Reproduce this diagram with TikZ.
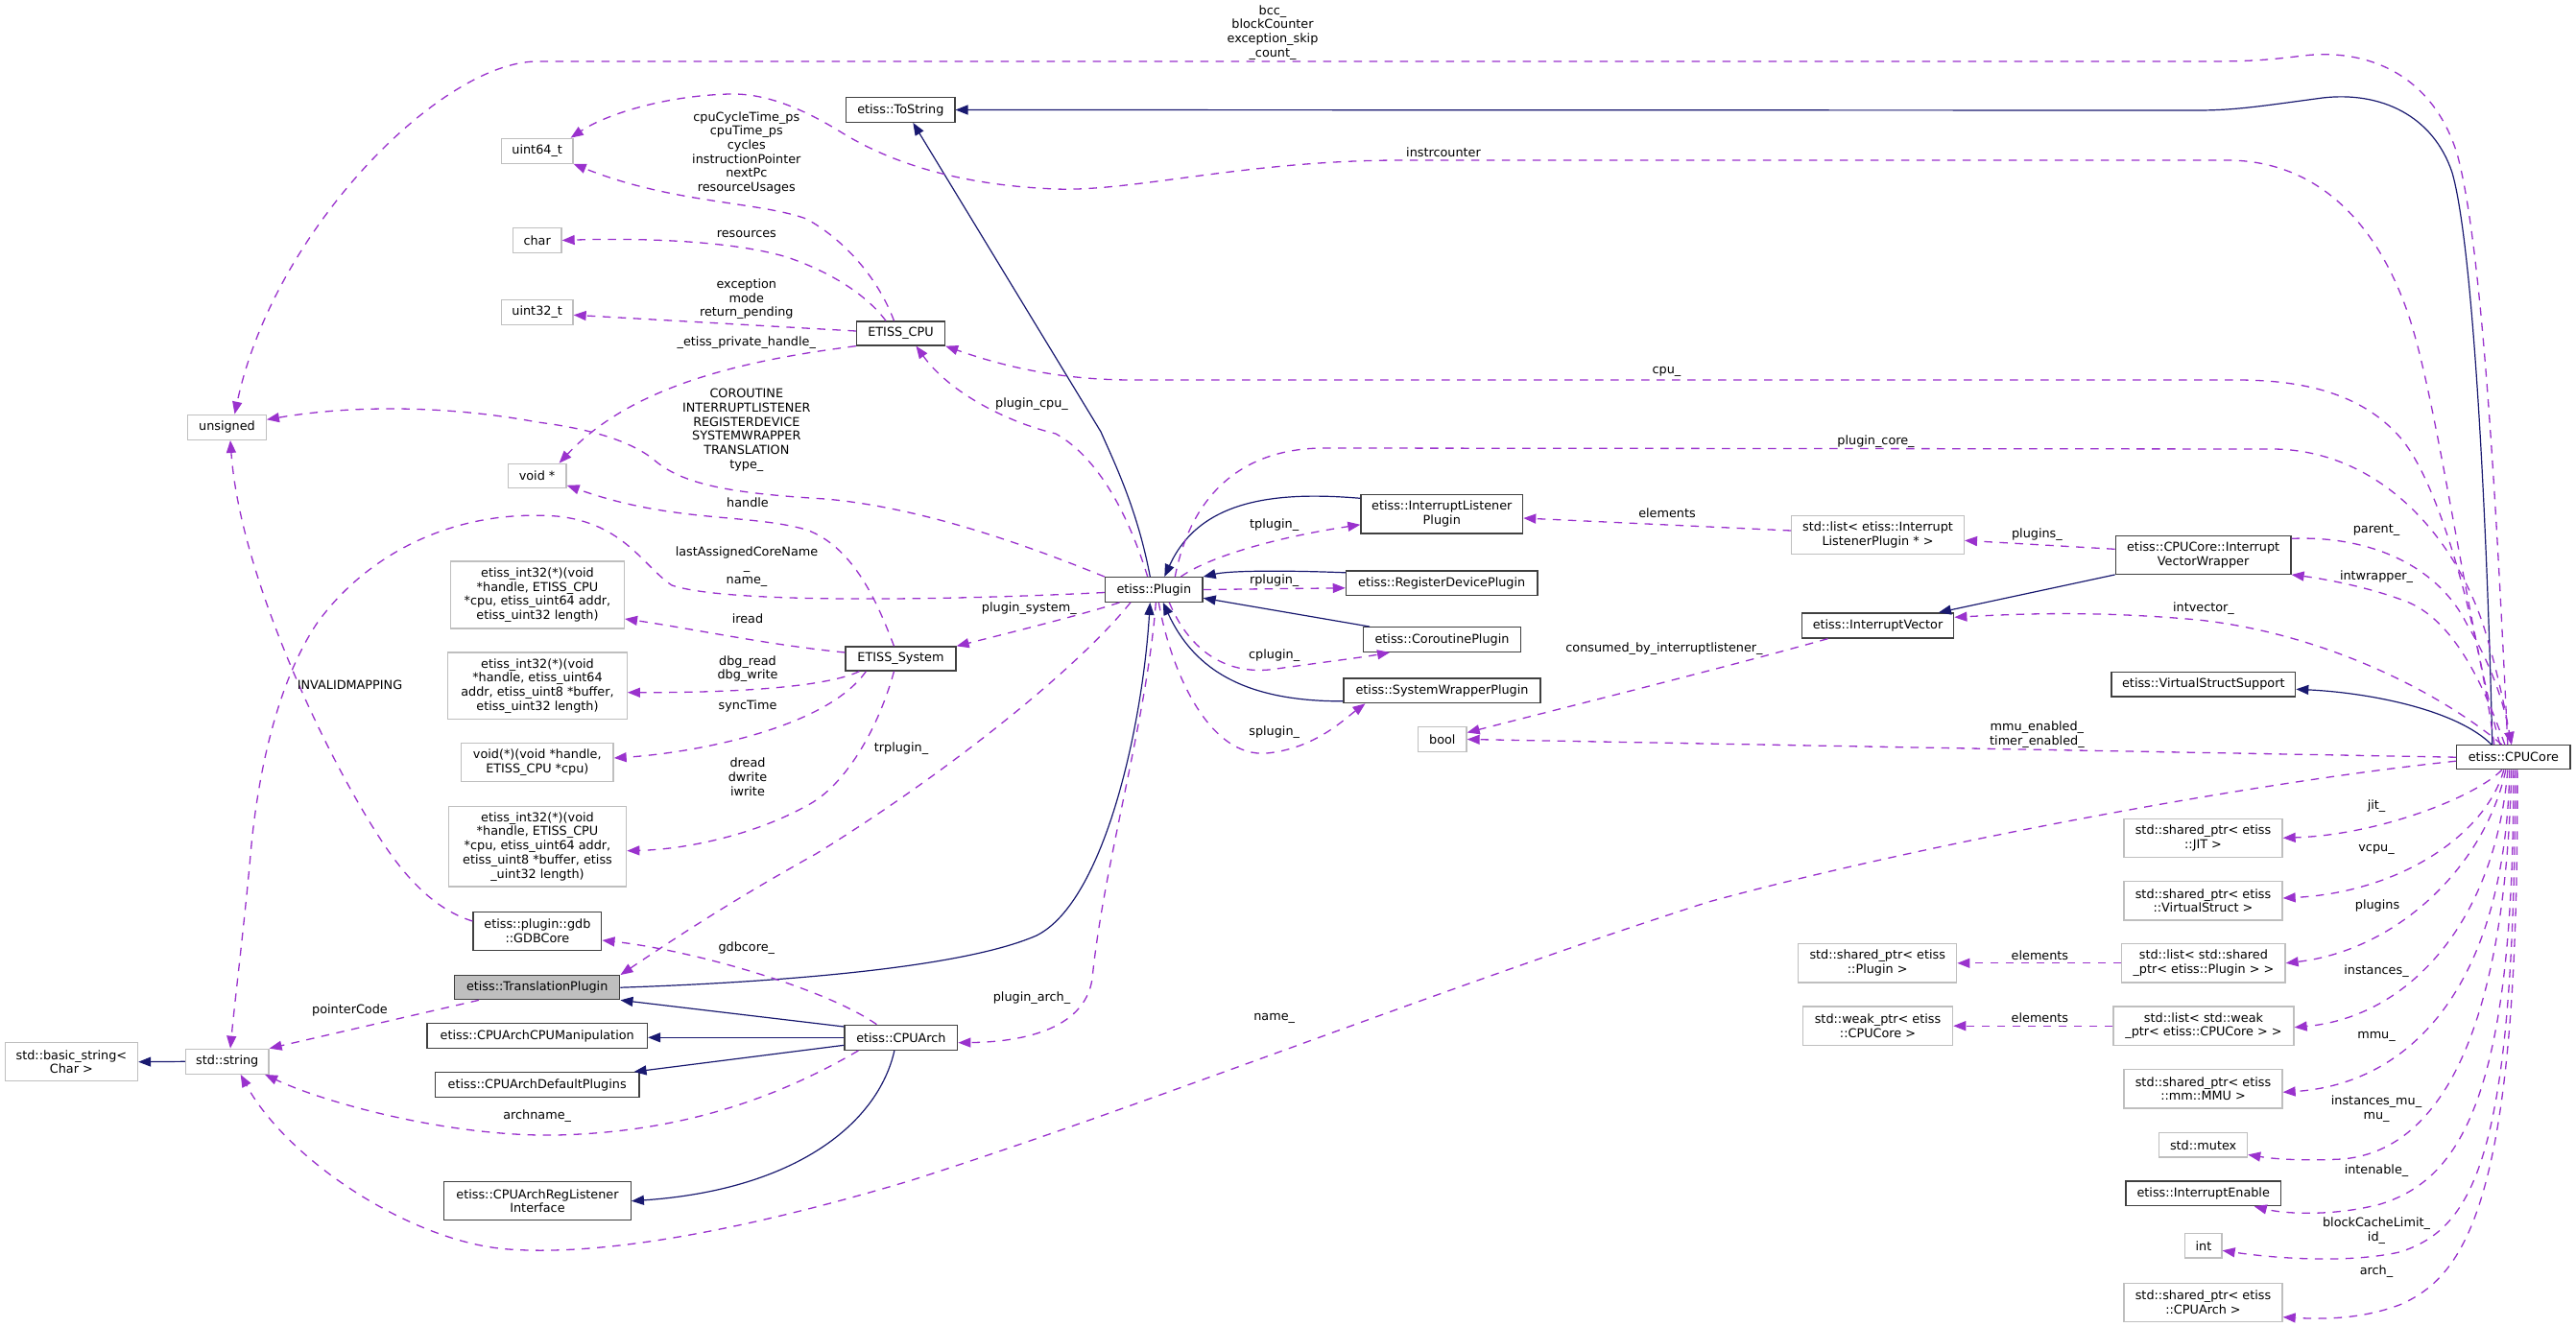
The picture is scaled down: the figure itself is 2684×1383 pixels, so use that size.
\documentclass[tikz,border=0pt]{standalone}
\usepackage{fontspec}
\setmainfont{DejaVu Sans}
\usetikzlibrary{arrows.meta,calc}
\definecolor{inhc}{HTML}{191970}
\definecolor{usec}{HTML}{9A32CD}
\definecolor{bord}{HTML}{404040}
\definecolor{gbord}{HTML}{BFBFBF}
\definecolor{focusfill}{HTML}{BFBFBF}
\newcommand\dxfont{\fontsize{12.8}{14.7}\selectfont}
\tikzset{
  box/.style={draw=bord, line width=1.3pt, fill=white, inner sep=0pt, align=center, font=\dxfont},
  ext/.style={box, draw=gbord},
  focus/.style={box, fill=focusfill},
  lab/.style={font=\dxfont, align=center, inner sep=0pt},
  inh/.style={draw=inhc, line width=1.2pt, -{Triangle[length=13pt,width=10pt]}},
  use/.style={draw=usec, line width=1.3pt, dash pattern=on 8.5pt off 7.5pt, -{Triangle[length=13pt,width=10pt]}},
  plain/.style={draw=usec, line width=1.3pt, dash pattern=on 8.5pt off 7.5pt}
}
\begin{document}
\begin{tikzpicture}[x=1pt,y=-1pt]
\fill[white] (0,0) rectangle (2684,1383);
\useasboundingbox (0,0) rectangle (2684,1383);
% ---------- nodes ----------
\node[ext,minimum width=81.6pt,minimum height=26pt] (unsigned) at (236.5,445.3) {unsigned};
\node[ext,minimum width=74.6pt,minimum height=26pt] (uint64) at (559.7,157.3) {uint64\_t};
\node[ext,minimum width=50.6pt,minimum height=25.6pt] (char) at (559.7,250.5) {char};
\node[ext,minimum width=74.6pt,minimum height=26pt] (uint32) at (559.7,325.3) {uint32\_t};
\node[ext,minimum width=60.8pt,minimum height=25pt] (voidp) at (559.6,495.8) {void *};
\node[ext,minimum width=180.8pt,minimum height=70pt] (fna) at (560,620) {etiss\_int32(*)(void\\{*}handle, ETISS\_CPU\\{*}cpu, etiss\_uint64 addr,\\etiss\_uint32 length)};
\node[ext,minimum width=186.5pt,minimum height=69.3pt] (fnb) at (560,714.7) {etiss\_int32(*)(void\\{*}handle, etiss\_uint64\\addr, etiss\_uint8 *buffer,\\etiss\_uint32 length)};
\node[ext,minimum width=158.5pt,minimum height=40pt] (fnc) at (559.8,794.3) {void(*)(void *handle,\\ETISS\_CPU *cpu)};
\node[ext,minimum width=185.4pt,minimum height=83.3pt] (fnd) at (560,882.3) {etiss\_int32(*)(void\\{*}handle, ETISS\_CPU\\{*}cpu, etiss\_uint64 addr,\\etiss\_uint8 *buffer, etiss\\\_uint32 length)};
\node[box,minimum width=133.8pt,minimum height=39.6pt] (gdbcore) at (559.9,970.5) {etiss::plugin::gdb\\::GDBCore};
\node[focus,minimum width=172.2pt,minimum height=25pt] (transl) at (559.7,1029.2) {etiss::TranslationPlugin};
\node[box,minimum width=229.6pt,minimum height=26pt] (cpumanip) at (559.7,1079.7) {etiss::CPUArchCPUManipulation};
\node[box,minimum width=212.4pt,minimum height=25.6pt] (defplug) at (559.7,1130.5) {etiss::CPUArchDefaultPlugins};
\node[box,minimum width=194.6pt,minimum height=40pt] (reglist) at (560,1251.7) {etiss::CPUArchRegListener\\Interface};
\node[ext,minimum width=86.6pt,minimum height=26pt] (stdstring) at (236.7,1106.3) {std::string};
\node[ext,minimum width=138.3pt,minimum height=40pt] (basicstr) at (74.4,1106.7) {std::basic\_string\textless\\Char \textgreater};
\node[box,minimum width=113.1pt,minimum height=25.6pt] (tostring) at (938.3,114.5) {etiss::ToString};
\node[box,minimum width=92pt,minimum height=25pt] (etisscpu) at (938.5,347.5) {ETISS\_CPU};
\node[box,minimum width=115pt,minimum height=25pt] (etisssys) at (938.5,686.5) {ETISS\_System};
\node[box,minimum width=117.7pt,minimum height=26pt] (cpuarch) at (938.9,1081.3) {etiss::CPUArch};
\node[box,minimum width=101.5pt,minimum height=25.6pt] (plugin) at (1202.3,614.5) {etiss::Plugin};
\node[box,minimum width=168.7pt,minimum height=40.3pt] (ilp) at (1502.3,535.8) {etiss::InterruptListener\\Plugin};
\node[box,minimum width=199.6pt,minimum height=25.7pt] (rdp) at (1502.2,607.8) {etiss::RegisterDevicePlugin};
\node[box,minimum width=163.6pt,minimum height=25.6pt] (corp) at (1502.5,666.5) {etiss::CoroutinePlugin};
\node[box,minimum width=205pt,minimum height=25.7pt] (swp) at (1502.5,719.8) {etiss::SystemWrapperPlugin};
\node[ext,minimum width=50.4pt,minimum height=25.6pt] (bool) at (1502.8,770.5) {bool};
\node[ext,minimum width=179.7pt,minimum height=40pt] (listilp) at (1956.5,557.3) {std::list\textless{} etiss::Interrupt\\ListenerPlugin * \textgreater};
\node[box,minimum width=182.7pt,minimum height=40pt] (ivw) at (2295.6,578.3) {etiss::CPUCore::Interrupt\\VectorWrapper};
\node[box,minimum width=158.5pt,minimum height=26pt] (intvec) at (1956.5,652) {etiss::InterruptVector};
\node[box,minimum width=191.7pt,minimum height=25.3pt] (vss) at (2295.8,713.3) {etiss::VirtualStructSupport};
\node[box,minimum width=118.3pt,minimum height=25pt] (cpucore) at (2618.8,789.2) {etiss::CPUCore};
\node[ext,minimum width=165pt,minimum height=40pt] (jit) at (2295.5,873.3) {std::shared\_ptr\textless{} etiss\\::JIT \textgreater};
\node[ext,minimum width=165pt,minimum height=40.7pt] (vstruct) at (2295.5,938.6) {std::shared\_ptr\textless{} etiss\\::VirtualStruct \textgreater};
\node[ext,minimum width=170.2pt,minimum height=40.3pt] (listplug) at (2295.9,1003.8) {std::list\textless{} std::shared\\\_ptr\textless{} etiss::Plugin \textgreater{} \textgreater};
\node[ext,minimum width=165pt,minimum height=40.3pt] (shplug) at (1956.2,1003.8) {std::shared\_ptr\textless{} etiss\\::Plugin \textgreater};
\node[ext,minimum width=188pt,minimum height=40.3pt] (listweak) at (2296,1069.2) {std::list\textless{} std::weak\\\_ptr\textless{} etiss::CPUCore \textgreater{} \textgreater};
\node[ext,minimum width=156.2pt,minimum height=40.3pt] (weakcore) at (1956.5,1069.2) {std::weak\_ptr\textless{} etiss\\::CPUCore \textgreater};
\node[ext,minimum width=165pt,minimum height=40.7pt] (mmu) at (2295.5,1134.6) {std::shared\_ptr\textless{} etiss\\::mm::MMU \textgreater};
\node[ext,minimum width=91.9pt,minimum height=25.3pt] (mutex) at (2295.6,1193.4) {std::mutex};
\node[box,minimum width=161.4pt,minimum height=25.7pt] (intenable) at (2295.7,1243.8) {etiss::InterruptEnable};
\node[ext,minimum width=38.2pt,minimum height=25.3pt] (int) at (2295.9,1298.3) {int};
\node[ext,minimum width=165pt,minimum height=40pt] (sharch) at (2295.5,1357.3) {std::shared\_ptr\textless{} etiss\\::CPUArch \textgreater};
% ---------- inheritance ----------
\draw[inh] ([xshift=-22]cpucore.north) .. controls (2590,500) and (2575,250) .. (2555,180) .. controls (2535,120) and (2480,95) .. (2420,102) .. controls (2360,110) and (2330,115) .. (2290,115) -- (tostring.east);
\draw[inh] ([xshift=-4]plugin.north) .. controls (1185,530) and (1160,480) .. (1147,450) -- ([xshift=13]tostring.south);
\draw[inh] ([yshift=16.5]ilp.west) .. controls (1330,512) and (1250,520) .. ([xshift=11]plugin.north);
\draw[inh] ([yshift=11]rdp.west) .. controls (1330,594) and (1280,595) .. (plugin.north east);
\draw[inh] ([xshift=7]corp.north west) -- ([yshift=-8.8]plugin.east);
\draw[inh] ([yshift=-11]swp.west) .. controls (1300,731) and (1245,700) .. ([xshift=9.5]plugin.south);
\draw[inh] (transl.east) .. controls (800,1024) and (1000,1010) .. (1080,975) .. controls (1150,940) and (1190,760) .. ([xshift=-4]plugin.south);
\draw[inh] ([yshift=11.3]cpuarch.west) -- (transl.south east);
\draw[inh] (cpuarch.west) -- (cpuarch.west -| cpumanip.east);
\draw[inh] ([yshift=-8]cpuarch.west) -- ([xshift=-6]defplug.north east);
\draw[inh] ([xshift=-7]cpuarch.south) .. controls (915,1170) and (830,1240) .. (reglist.east);
\draw[inh] (ivw.south west) -- ([xshift=-16.5]intvec.north east);
\draw[inh] ([xshift=37]cpucore.north west) .. controls (2560,740) and (2470,722) .. ([yshift=-5]vss.east);
\draw[inh] (stdstring.west) -- (basicstr.east);
% ---------- usage ----------
\draw[use] ([xshift=-6]cpucore.north) .. controls (2600,500) and (2585,250) .. (2560,160) .. controls (2535,80) and (2470,50) .. (2400,58) .. controls (2360,63) and (2340,64) .. (2300,64) -- (560,64) .. controls (460,64) and (285,240) .. ([xshift=8]unsigned.north);
\draw[use] ([xshift=-14]cpucore.north) .. controls (2570,650) and (2540,420) .. (2510,330) .. controls (2480,240) and (2420,167) .. (2320,167) -- (1460,167) .. controls (1300,167) and (1180,200) .. (1100,197) .. controls (1000,193) and (930,170) .. (880,140) .. controls (840,115) and (800,97) .. (760,98) .. controls (690,100) and (630,120) .. ([xshift=-3]uint64.north east);
\draw[use] ([xshift=-7]etisscpu.north) .. controls (915,290) and (880,250) .. (840,228) .. controls (790,210) and (700,212) .. (uint64.south east);
\draw[use] ([xshift=-15.5]etisscpu.north) .. controls (905,310) and (870,285) .. (820,268) .. controls (760,250) and (660,248) .. (char.east);
\draw[use] ([yshift=2.5]etisscpu.west) -- ([yshift=-3]uint32.east);
\draw[use] (etisscpu.south west) .. controls (780,375) and (660,400) .. ([xshift=23]voidp.north);
\draw[use] ([xshift=-20]cpucore.north) .. controls (2580,640) and (2540,500) .. (2500,455) .. controls (2460,410) and (2400,396) .. (2330,396) -- (1180,396) .. controls (1100,396) and (1040,380) .. (etisscpu.south east);
\draw[use] ([xshift=-6.6]plugin.north) .. controls (1180,550) and (1150,480) .. (1100,452) .. controls (1050,440) and (990,410) .. ([xshift=16]etisscpu.south);
\draw[use] (plugin.north west) .. controls (1050,560) and (950,528) .. (860,520) .. controls (760,514) and (710,505) .. (680,478) .. controls (650,455) and (600,445) .. (560,440) .. controls (480,425) and (380,420) .. ([yshift=8]unsigned.east);
\draw[use] ([xshift=-7]etisssys.north) .. controls (915,630) and (890,570) .. (840,552) .. controls (780,535) and (700,545) .. ([yshift=-10]voidp.east);
\draw[use] ([yshift=-3]plugin.west) .. controls (1000,625) and (760,630) .. (700,610) .. controls (670,590) and (650,545) .. (580,538) .. controls (470,530) and (380,580) .. (330,650) .. controls (290,710) and (270,800) .. (262,880) .. controls (255,960) and (245,1040) .. ([xshift=3.3]stdstring.north);
\draw[use] ([yshift=10.5]gdbcore.west) .. controls (460,950) and (430,925) .. (400,880) .. controls (340,790) and (250,600) .. ([xshift=3.5]unsigned.south);
\draw[use] ([yshift=6.5]etisssys.west) .. controls (800,672) and (720,655) .. ([yshift=-25]fna.east);
\draw[use] ([xshift=15]etisssys.south west) .. controls (870,712) and (800,722) .. ([yshift=-7]fnb.east);
\draw[use] ([xshift=22]etisssys.south west) .. controls (860,760) and (720,785) .. ([yshift=4.3]fnc.east);
\draw[use] ([xshift=-7]etisssys.south) .. controls (915,760) and (880,820) .. (840,840) .. controls (790,868) and (720,885) .. ([yshift=-4.4]fnd.east);
\draw[use] ([xshift=15.5]plugin.south west) .. controls (1130,640) and (1050,660) .. (etisssys.north east);
\draw[use] ([xshift=27]plugin.south west) .. controls (1120,700) and (980,810) .. (850,890) .. controls (760,940) and (700,980) .. (transl.north east);
\draw[use] ([xshift=34]cpuarch.north west) .. controls (860,1030) and (720,990) .. ([yshift=-9.5]gdbcore.east);
\draw[use] ([xshift=26]transl.south west) -- (stdstring.north east);
\draw[use] ([xshift=15]cpuarch.south west) .. controls (800,1150) and (700,1180) .. (580,1183) .. controls (470,1185) and (340,1150) .. ([xshift=-4.5]stdstring.south east);
\draw[use] ([yshift=-4]cpucore.west) .. controls (2350,815) and (2000,880) .. (1780,940) .. controls (1500,1030) and (1200,1150) .. (950,1230) .. controls (800,1275) and (640,1310) .. (530,1302) .. controls (430,1295) and (300,1210) .. ([xshift=14]stdstring.south);
\draw[use] ([xshift=2]plugin.south) .. controls (1195,750) and (1150,900) .. (1138,1020) .. controls (1130,1075) and (1060,1086) .. ([yshift=-5.4]cpuarch.east);
\draw[use] ([xshift=28]plugin.north) .. controls (1260,580) and (1330,560) .. ([yshift=-11]ilp.west);
\draw[use] (plugin.east) -- ([yshift=-5]rdp.west);
\draw[use] ([xshift=16]plugin.south) .. controls (1240,680) and (1280,705) .. (1330,697) .. controls (1380,690) and (1420,685) .. ([xshift=-54.5]corp.south);
\draw[use] ([xshift=5]plugin.south) .. controls (1220,700) and (1260,790) .. (1320,785) .. controls (1370,780) and (1400,750) .. ([xshift=-80]swp.south);
\draw[use] ([xshift=22]plugin.north) .. controls (1240,520) and (1290,467) .. (1380,467) -- (2370,468) .. controls (2480,470) and (2560,560) .. (2590,660) .. controls (2605,710) and (2612,750) .. ([xshift=-2]cpucore.north);
\draw[use] ([yshift=17]ivw.east) .. controls (2470,558) and (2540,590) .. (2570,650) .. controls (2600,700) and (2610,740) .. ([xshift=-2]cpucore.north);
\draw[use] ([xshift=-9]cpucore.north) .. controls (2590,720) and (2560,650) .. (2510,628) .. controls (2470,612) and (2420,603) .. (ivw.south east);
\draw[use] ([xshift=-12]cpucore.north) .. controls (2540,720) and (2420,660) .. (2290,646) .. controls (2180,636) and (2100,640) .. ([yshift=8.7]intvec.east);
\draw[use] ([yshift=6]ivw.west) -- ([yshift=-6]listilp.east);
\draw[use] ([yshift=4.3]listilp.west) -- ([yshift=-4.2]ilp.east);
\draw[use] ([xshift=-52]intvec.south) .. controls (1800,695) and (1620,740) .. ([yshift=7]bool.east);
\draw[use] (cpucore.west) -- (bool.east);
\draw[use] ([xshift=-12]cpucore.south) .. controls (2580,830) and (2480,870) .. (jit.east);
\draw[use] ([xshift=-10]cpucore.south) .. controls (2590,870) and (2500,930) .. ([yshift=2.6]vstruct.east);
\draw[use] ([xshift=-8]cpucore.south) .. controls (2590,900) and (2500,990) .. (listplug.east);
\draw[use] ([xshift=-6]cpucore.south) .. controls (2600,960) and (2510,1060) .. ([yshift=-1.5]listweak.east);
\draw[use] ([xshift=-4]cpucore.south) .. controls (2610,1030) and (2510,1130) .. ([yshift=-3.7]mmu.east);
\draw[use] ([xshift=-2]cpucore.south) .. controls (2610,1080) and (2540,1200) .. (2440,1208) .. controls (2400,1210) and (2370,1208) .. ([yshift=-10]mutex.east);
\draw[use] (cpucore.south) .. controls (2620,1150) and (2560,1230) .. (2480,1255) .. controls (2430,1268) and (2380,1265) .. ([xshift=53]intenable.south);
\draw[use] ([xshift=2]cpucore.south) .. controls (2620,1200) and (2580,1280) .. (2500,1305) .. controls (2440,1318) and (2360,1310) .. ([yshift=-5]int.east);
\draw[use] ([xshift=4]cpucore.south) .. controls (2625,1250) and (2570,1330) .. (2500,1360) .. controls (2460,1375) and (2420,1375) .. ([yshift=-15.4]sharch.east);
\draw[use] (listplug.west) -- (shplug.east);
\draw[use] (listweak.west) -- (weakcore.east);
% ---------- labels ----------
\node[lab] (lbcc) at (1326,33.7) {bcc\_\\blockCounter\\exception\_skip\\\_count\_};
\node[lab] (luint64) at (777.8,159.3) {cpuCycleTime\_ps\\cpuTime\_ps\\cycles\\instructionPointer\\nextPc\\resourceUsages};
\node[lab] (linstr) at (1504,158.7) {instrcounter};
\node[lab] (lres) at (777.8,243.7) {resources};
\node[lab] (lexc) at (777.8,311.7) {exception\\mode\\return\_pending};
\node[lab] (lpriv) at (777.8,356.7) {\_etiss\_private\_handle\_};
\node[lab] (lcpu) at (1736.5,387.7) {cpu\_};
\node[lab] (lplcpu) at (1075,421) {plugin\_cpu\_};
\node[lab] (ltype) at (777.8,448.3) {COROUTINE\\INTERRUPTLISTENER\\REGISTERDEVICE\\SYSTEMWRAPPER\\TRANSLATION\\type\_};
\node[lab] (lplcore) at (1954.5,460) {plugin\_core\_};
\node[lab] (lhandle) at (779,524) {handle};
\node[lab] (lelem1) at (1737,534.3) {elements};
\node[lab] (ltplug) at (1327.7,546.7) {tplugin\_};
\node[lab] (lplugins) at (2122.4,556.7) {plugins\_};
\node[lab] (lparent) at (2476,552.7) {parent\_};
\node[lab] (llast) at (778,590.4) {lastAssignedCoreName\\\_\\name\_};
\node[lab] (lintw) at (2476,600.7) {intwrapper\_};
\node[lab] (lrplug) at (1327.7,605) {rplugin\_};
\node[lab] (lplsys) at (1072.3,634.3) {plugin\_system\_};
\node[lab] (lintv) at (2296,634.3) {intvector\_};
\node[lab] (liread) at (779,644.3) {iread};
\node[lab] (lcons) at (1734,675.7) {consumed\_by\_interruptlistener\_};
\node[lab] (lcplug) at (1327.7,683.3) {cplugin\_};
\node[lab] (ldbg) at (779,697.2) {dbg\_read\\dbg\_write};
\node[lab] (linv) at (364.5,714.3) {INVALIDMAPPING};
\node[lab] (lsync) at (779,735.7) {syncTime};
\node[lab] (lmmuen) at (2122.4,765.5) {mmu\_enabled\_\\timer\_enabled\_};
\node[lab] (lsplug) at (1327.7,763.3) {splugin\_};
\node[lab] (ltrplug) at (939,780) {trplugin\_};
\node[lab] (ldread) at (779,809.8) {dread\\dwrite\\iwrite};
\node[lab] (ljit) at (2476,840) {jit\_};
\node[lab] (lvcpu) at (2476,885) {vcpu\_};
\node[lab] (lplugs) at (2477,944.3) {plugins};
\node[lab] (lgdb) at (777.8,987.7) {gdbcore\_};
\node[lab] (lelem2) at (2125.4,995.7) {elements};
\node[lab] (linst) at (2476,1011.7) {instances\_};
\node[lab] (lplarch) at (1075,1040) {plugin\_arch\_};
\node[lab] (lpc) at (364.5,1052.7) {pointerCode};
\node[lab] (lelem3) at (2125.4,1060.7) {elements};
\node[lab] (lname) at (1327.7,1061) {name\_};
\node[lab] (lmmu) at (2476,1080) {mmu\_};
\node[lab] (lmu) at (2476,1155.8) {instances\_mu\_\\mu\_};
\node[lab] (larchn) at (559.7,1163.3) {archname\_};
\node[lab] (lien) at (2476,1220) {intenable\_};
\node[lab] (lbcl) at (2476,1282.9) {blockCacheLimit\_\\id\_};
\node[lab] (larch) at (2476,1325) {arch\_};
\end{tikzpicture}
\end{document}
